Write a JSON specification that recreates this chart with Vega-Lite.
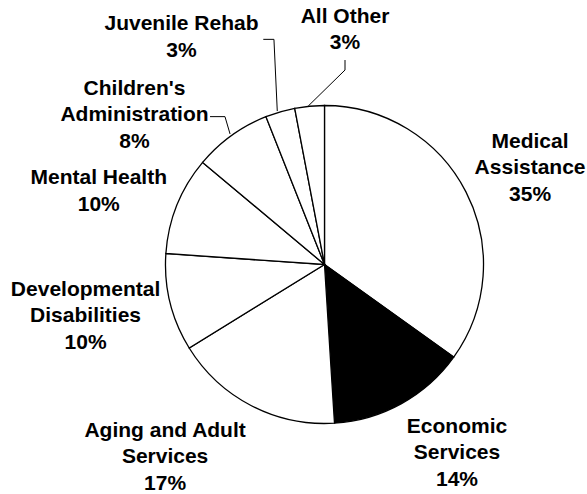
{
  "$schema": "https://vega.github.io/schema/vega-lite/v6.json",
  "width": 525,
  "height": 459,
  "autosize": {"type": "none"},
  "padding": {"left": 62, "top": 35, "right": 0, "bottom": 0},
  "background": "white",
  "config": {"view": {"stroke": null}, "font": "Liberation Sans"},
  "datasets": {
    "slices": [
      {"cat": "Medical Assistance", "value": 34.9, "rank": 1, "label": "Medical\nAssistance\n35%"},
      {"cat": "Economic Services", "value": 14.1, "rank": 2, "label": "Economic\nServices\n14%"},
      {"cat": "Aging and Adult Services", "value": 17.2, "rank": 3, "label": "Aging and Adult\nServices\n17%"},
      {"cat": "Developmental Disabilities", "value": 9.9, "rank": 4, "label": "Developmental\nDisabilities\n10%"},
      {"cat": "Mental Health", "value": 10, "rank": 5, "label": "Mental Health\n10%"},
      {"cat": "Children's Administration", "value": 7.9, "rank": 6, "label": "Children's\nAdministration\n8%"},
      {"cat": "Juvenile Rehab", "value": 3, "rank": 7, "label": "Juvenile Rehab\n3%"},
      {"cat": "All Other", "value": 3, "rank": 8, "label": "All Other\n3%"}
    ],
    "leaders": [
      {"id": "Juvenile Rehab", "seq": 1, "x": -0.385, "y": 1.416},
      {"id": "Juvenile Rehab", "seq": 2, "x": -0.318, "y": 1.416},
      {"id": "Juvenile Rehab", "seq": 3, "x": -0.297, "y": 0.965},
      {"id": "All Other", "seq": 1, "x": 0.129, "y": 1.286},
      {"id": "All Other", "seq": 2, "x": 0.129, "y": 1.223},
      {"id": "All Other", "seq": 3, "x": -0.102, "y": 0.997},
      {"id": "Children's Administration", "seq": 1, "x": -0.72, "y": 0.93},
      {"id": "Children's Administration", "seq": 2, "x": -0.626, "y": 0.93},
      {"id": "Children's Administration", "seq": 3, "x": -0.594, "y": 0.821}
    ]
  },
  "layer": [
    {
      "data": {"name": "slices"},
      "mark": {"type": "arc", "outerRadius": 159, "stroke": "black", "strokeWidth": 1.3},
      "encoding": {
        "theta": {"field": "value", "type": "quantitative", "stack": true},
        "order": {"field": "rank", "type": "quantitative"},
        "fill": {
          "field": "cat", "type": "nominal", "legend": null,
          "scale": {
            "domain": ["Medical Assistance", "Economic Services", "Aging and Adult Services", "Developmental Disabilities", "Mental Health", "Children's Administration", "Juvenile Rehab", "All Other"],
            "range": ["white", "black", "white", "white", "white", "white", "white", "white"]
          }
        }
      }
    },
    {
      "data": {"name": "leaders"},
      "mark": {"type": "line", "stroke": "black", "strokeWidth": 1},
      "encoding": {
        "x": {"field": "x", "type": "quantitative", "axis": null, "scale": {"domain": [-1.651, 1.651], "nice": false, "zero": false}},
        "y": {"field": "y", "type": "quantitative", "axis": null, "scale": {"domain": [-1.4434, 1.4434], "nice": false, "zero": false}},
        "detail": {"field": "id", "type": "nominal"},
        "order": {"field": "seq", "type": "quantitative"}
      }
    },
    {
      "data": {"name": "slices"},
      "mark": {"type": "text", "radius": 225, "dx": 5.4, "dy": -20.2, "fontSize": 21, "fontWeight": "bold", "lineBreak": "\n", "lineHeight": 26.5, "align": "center", "baseline": "middle", "color": "black"},
      "encoding": {
        "theta": {"field": "value", "type": "quantitative", "stack": true},
        "order": {"field": "rank", "type": "quantitative"},
        "text": {"condition": {"test": "datum.rank === 1", "field": "label"}, "value": ""}
      }
    },
    {
      "data": {"name": "slices"},
      "mark": {"type": "text", "radius": 225, "dx": 23.5, "dy": -34.8, "fontSize": 21, "fontWeight": "bold", "lineBreak": "\n", "lineHeight": 26.5, "align": "center", "baseline": "middle", "color": "black"},
      "encoding": {
        "theta": {"field": "value", "type": "quantitative", "stack": true},
        "order": {"field": "rank", "type": "quantitative"},
        "text": {"condition": {"test": "datum.rank === 2", "field": "label"}, "value": ""}
      }
    },
    {
      "data": {"name": "slices"},
      "mark": {"type": "text", "radius": 225, "dx": -56, "dy": -33.8, "fontSize": 21, "fontWeight": "bold", "lineBreak": "\n", "lineHeight": 26.5, "align": "center", "baseline": "middle", "color": "black"},
      "encoding": {
        "theta": {"field": "value", "type": "quantitative", "stack": true},
        "order": {"field": "rank", "type": "quantitative"},
        "text": {"condition": {"test": "datum.rank === 3", "field": "label"}, "value": ""}
      }
    },
    {
      "data": {"name": "slices"},
      "mark": {"type": "text", "radius": 225, "dx": -20.5, "dy": -28.4, "fontSize": 21, "fontWeight": "bold", "lineBreak": "\n", "lineHeight": 26.5, "align": "center", "baseline": "middle", "color": "black"},
      "encoding": {
        "theta": {"field": "value", "type": "quantitative", "stack": true},
        "order": {"field": "rank", "type": "quantitative"},
        "text": {"condition": {"test": "datum.rank === 4", "field": "label"}, "value": ""}
      }
    },
    {
      "data": {"name": "slices"},
      "mark": {"type": "text", "radius": 225, "dx": -17.1, "dy": -2.15, "fontSize": 21, "fontWeight": "bold", "lineBreak": "\n", "lineHeight": 26.5, "align": "center", "baseline": "middle", "color": "black"},
      "encoding": {
        "theta": {"field": "value", "type": "quantitative", "stack": true},
        "order": {"field": "rank", "type": "quantitative"},
        "text": {"condition": {"test": "datum.rank === 5", "field": "label"}, "value": ""}
      }
    },
    {
      "data": {"name": "slices"},
      "mark": {"type": "text", "radius": 225, "dx": -58.3, "dy": 6.5, "fontSize": 21, "fontWeight": "bold", "lineBreak": "\n", "lineHeight": 26.5, "align": "center", "baseline": "middle", "color": "black"},
      "encoding": {
        "theta": {"field": "value", "type": "quantitative", "stack": true},
        "order": {"field": "rank", "type": "quantitative"},
        "text": {"condition": {"test": "datum.rank === 6", "field": "label"}, "value": ""}
      }
    },
    {
      "data": {"name": "slices"},
      "mark": {"type": "text", "radius": 225, "dx": -80.2, "dy": -24.15, "fontSize": 21, "fontWeight": "bold", "lineBreak": "\n", "lineHeight": 26.5, "align": "center", "baseline": "middle", "color": "black"},
      "encoding": {
        "theta": {"field": "value", "type": "quantitative", "stack": true},
        "order": {"field": "rank", "type": "quantitative"},
        "text": {"condition": {"test": "datum.rank === 7", "field": "label"}, "value": ""}
      }
    },
    {
      "data": {"name": "slices"},
      "mark": {"type": "text", "radius": 225, "dx": 41.7, "dy": -23.75, "fontSize": 21, "fontWeight": "bold", "lineBreak": "\n", "lineHeight": 26.5, "align": "center", "baseline": "middle", "color": "black"},
      "encoding": {
        "theta": {"field": "value", "type": "quantitative", "stack": true},
        "order": {"field": "rank", "type": "quantitative"},
        "text": {"condition": {"test": "datum.rank === 8", "field": "label"}, "value": ""}
      }
    }
  ]
}
